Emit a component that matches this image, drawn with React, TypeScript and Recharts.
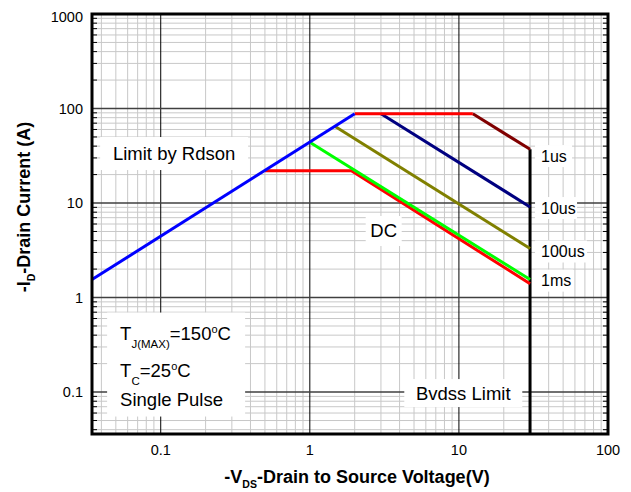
import {
  ComposedChart,
  Line,
  XAxis,
  YAxis,
  ReferenceLine,
  ReferenceDot,
  ReferenceArea,
} from 'recharts';

const X_MIN = 0.0346;
const X_MAX = 100;
const Y_MIN = 0.036;
const Y_MAX = 1000;

const xTicks = [0.1, 1, 10, 100];
const yTicks = [0.1, 1, 10, 100, 1000];

// SOA boundaries as (V, A) corner points
const rdsonLimit = [
  { x: 0.0346, y: 1.55 },
  { x: 2, y: 88 },
];
const packageLimit = [
  { x: 2, y: 88 },
  { x: 12.4, y: 88 },
];
const pulse1us = [
  { x: 12.4, y: 88 },
  { x: 30, y: 37 },
];
const pulse10us = [
  { x: 3, y: 88 },
  { x: 30, y: 9.1 },
];
const pulse100us = [
  { x: 1.47, y: 65 },
  { x: 30, y: 3.3 },
];
const pulse1ms = [
  { x: 1, y: 44 },
  { x: 30, y: 1.55 },
];
const dcLimit = [
  { x: 0.5, y: 22 },
  { x: 1.9, y: 22 },
  { x: 30, y: 1.4 },
];
const bvdssLimit = [
  { x: 30, y: 37 },
  { x: 30, y: Y_MIN },
];

const series = [
  { key: 'bvdss', data: bvdssLimit, color: '#000000' },
  { key: 'dc', data: dcLimit, color: '#ff0000' },
  { key: '1ms', data: pulse1ms, color: '#00ff00' },
  { key: '100us', data: pulse100us, color: '#808000' },
  { key: '10us', data: pulse10us, color: '#000080' },
  { key: '1us', data: pulse1us, color: '#800000' },
  { key: 'pkg', data: packageLimit, color: '#ff0000' },
  { key: 'rdson', data: rdsonLimit, color: '#0000ff' },
];

// pulse width labels sit just right of the 30V line
const pulseLabels = [
  { text: '1us', y: 31.4, w: 37 },
  { text: '10us', y: 8.85, w: 42 },
  { text: '100us', y: 3.07, w: 52 },
  { text: '1ms', y: 1.51, w: 38 },
];

const boxedNotes = [
  { text: 'Limit by Rdson', x: 0.123, y: 33.4, w: 148, h: 33 },
  { text: 'DC', x: 3.13, y: 5.06, w: 36, h: 30 },
  { text: 'Bvdss Limit', x: 10.7, y: 0.0976, w: 118, h: 28 },
];

const minorSteps = (decades: number[], min: number) =>
  decades
    .flatMap((d) => [2, 3, 4, 5, 6, 7, 8, 9].map((k) => k * d))
    .filter((v) => v > min);

const xMinor = minorSteps([0.01, 0.1, 1, 10], X_MIN);
const yMinor = minorSteps([0.01, 0.1, 1, 10, 100], Y_MIN);
const xMajor = [0.1, 1, 10];
const yMajor = [0.1, 1, 10, 100];

const FONT = '"Liberation Sans", Arial, sans-serif';
const GRID = '#c8c8c8';

// minor horizontal rule with small inward ticks on both frame edges
const MinorRow = (p: any) => (
  <g>
    <line x1={p.x1} y1={p.y1} x2={p.x2} y2={p.y2} stroke={GRID} strokeWidth={1} />
    <line x1={p.x1} y1={p.y1} x2={p.x1 + 5} y2={p.y1} stroke="#000" strokeWidth={1} />
    <line x1={p.x2 - 5} y1={p.y2} x2={p.x2} y2={p.y2} stroke="#000" strokeWidth={1} />
  </g>
);

const boxedShape = (n: { text: string; w: number; h: number }) => (p: any) => (
  <g>
    <rect x={p.cx - n.w / 2} y={p.cy - n.h / 2} width={n.w} height={n.h} fill="#fff" />
    <text x={p.cx} y={p.cy} dy="0.35em" textAnchor="middle" fontFamily={FONT} fontSize={18.5} fill="#000">
      {n.text}
    </text>
  </g>
);

const pulseShape = (n: { text: string; w: number }) => (p: any) => (
  <g>
    <rect x={p.cx + 5} y={p.cy - 11} width={n.w} height={22} fill="#fff" />
    <text x={p.cx + 11} y={p.cy} dy="0.35em" fontFamily={FONT} fontSize={16} fill="#000">
      {n.text}
    </text>
  </g>
);

// test conditions block, anchored at its top-left corner
const ConditionsBox = (p: any) => {
  const x = p.cx;
  const y = p.cy;
  return (
    <g fontFamily={FONT} fill="#000">
      <rect x={x} y={y} width={138} height={104} fill="#fff" />
      <text x={x + 13} y={y + 27} fontSize={18.5}>
        T
        <tspan fontSize={11.5} dy={8}>J(MAX)</tspan>
        <tspan dy={-8}>=150</tspan>
        <tspan fontSize={11} dy={-7}>o</tspan>
        <tspan dy={7}>C</tspan>
      </text>
      <text x={x + 13} y={y + 64} fontSize={18.5}>
        T
        <tspan fontSize={11.5} dy={8}>C</tspan>
        <tspan dy={-8}>=25</tspan>
        <tspan fontSize={11} dy={-7}>o</tspan>
        <tspan dy={7}>C</tspan>
      </text>
      <text x={x + 13} y={y + 93} fontSize={18.5}>
        Single Pulse
      </text>
    </g>
  );
};

const XTitle = (props: any) => {
  const vb = props.viewBox;
  return (
    <text
      x={vb.x + vb.width / 2 + 7}
      y={vb.y + 49}
      textAnchor="middle"
      fontFamily={FONT}
      fontWeight="bold"
      fontSize={18}
      fill="#000"
    >
      -V
      <tspan fontSize={10.5} dy={5}>DS</tspan>
      <tspan dy={-5}>-Drain to Source Voltage(V)</tspan>
    </text>
  );
};

const YTitle = (props: any) => {
  const vb = props.viewBox;
  const cx = vb.x + 8;
  const cy = vb.y + vb.height / 2 - 17;
  return (
    <text
      x={cx}
      y={cy}
      transform={`rotate(-90 ${cx} ${cy})`}
      textAnchor="middle"
      fontFamily={FONT}
      fontWeight="bold"
      fontSize={18}
      fill="#000"
    >
      -I
      <tspan fontSize={10.5} dy={5}>D</tspan>
      <tspan dy={-5}>-Drain Current (A)</tspan>
    </text>
  );
};

export default function App() {
  return (
    <div style={{ width: 615, height: 484, background: '#fff' }}>
      <ComposedChart
        width={615}
        height={484}
        margin={{ top: 6, right: 15, bottom: 28, left: 14 }}
      >
        <XAxis
          dataKey="x"
          type="number"
          scale="log"
          domain={[X_MIN, X_MAX]}
          allowDataOverflow
          ticks={xTicks}
          tickFormatter={(v) => String(v)}
          height={30}
          tickSize={0}
          tickMargin={11}
          tickLine={false}
          axisLine={false}
          tick={{ fontFamily: FONT, fontSize: 14.5, fill: '#000' }}
          label={(p: any) => <XTitle {...p} />}
        />
        <YAxis
          dataKey="y"
          type="number"
          scale="log"
          domain={[Y_MIN, Y_MAX]}
          allowDataOverflow
          ticks={yTicks}
          tickFormatter={(v) => String(v)}
          width={70}
          tickSize={0}
          tickMargin={9}
          tickLine={false}
          axisLine={false}
          tick={{ fontFamily: FONT, fontSize: 14.5, fill: '#000' }}
          label={(p: any) => <YTitle {...p} />}
        />

        {xMinor.map((v) => (
          <ReferenceLine key={`xm${v}`} x={v} stroke={GRID} strokeWidth={1} zIndex={-100} />
        ))}
        {yMinor.map((v) => (
          <ReferenceLine key={`ym${v}`} y={v} shape={MinorRow} zIndex={-100} />
        ))}
        {xMajor.map((v) => (
          <ReferenceLine key={`xM${v}`} x={v} stroke="#000" strokeWidth={1} zIndex={-90} />
        ))}
        {yMajor.map((v) => (
          <ReferenceLine key={`yM${v}`} y={v} stroke="#404040" strokeWidth={1.5} zIndex={-90} />
        ))}

        {boxedNotes.map((n) => (
          <ReferenceDot
            key={n.text}
            x={n.x}
            y={n.y}
            r={0}
            ifOverflow="visible"
            shape={boxedShape(n)}
            zIndex={-80}
          />
        ))}
        {pulseLabels.map((n) => (
          <ReferenceDot
            key={n.text}
            x={30}
            y={n.y}
            r={0}
            ifOverflow="visible"
            shape={pulseShape(n)}
            zIndex={-80}
          />
        ))}
        <ReferenceDot x={0.0437} y={0.694} r={0} ifOverflow="visible" shape={ConditionsBox} zIndex={-80} />

        {series.map((s) => (
          <Line
            key={s.key}
            data={s.data}
            dataKey="y"
            type="linear"
            stroke={s.color}
            strokeWidth={3}
            dot={false}
            activeDot={false}
            isAnimationActive={false}
          />
        ))}

        <ReferenceArea
          x1={X_MIN}
          x2={X_MAX}
          y1={Y_MIN}
          y2={Y_MAX}
          fill="none"
          fillOpacity={0}
          stroke="#000"
          strokeWidth={3}
          ifOverflow="visible"
          zIndex={1000}
        />
      </ComposedChart>
    </div>
  );
}
